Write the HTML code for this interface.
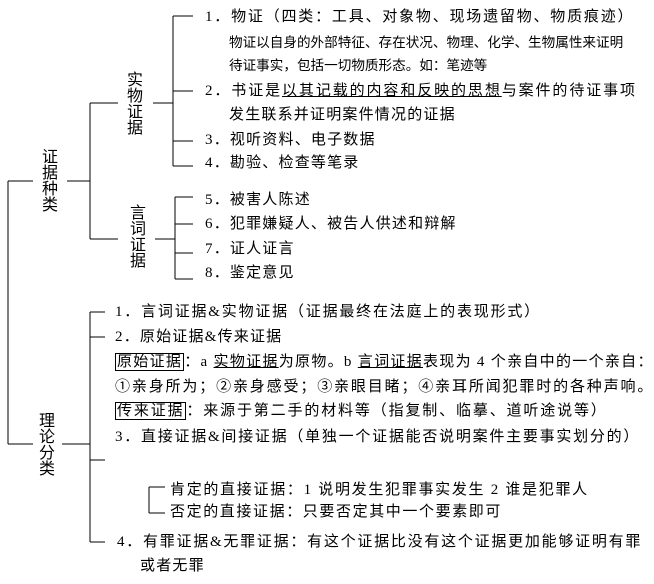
<!DOCTYPE html>
<html><head><meta charset="utf-8"><style>
html,body{margin:0;padding:0;background:#fff;}
body{width:654px;height:584px;position:relative;overflow:hidden;font-family:"Liberation Serif","Noto Sans CJK SC",sans-serif;color:#000;}
.t{position:absolute;white-space:nowrap;font-size:15px;letter-spacing:1.2px;line-height:18px;}
.s{position:absolute;white-space:nowrap;font-size:13.6px;line-height:16px;}
.v{position:absolute;font-size:16px;line-height:16px;width:18px;text-align:center;}
u{text-decoration:underline;}
.b{border:1px solid #000;padding:0 1px;}
svg{position:absolute;left:0;top:0;}
</style></head><body>
<svg width="654" height="584" stroke="#000" stroke-width="1.2" fill="none" shape-rendering="crispEdges">
<path d="M173,16V166 M173,16H193 M173,91H193 M173,141H193 M173,166H193 M153,103H173"/>
<path d="M175,197V279 M175,197H193 M175,224H193 M175,253H193 M175,279H193 M155,239H175"/>
<path d="M90,103V239 M90,103H118 M90,239H118 M67,181H90"/>
<path d="M8,181V444 M8,181H33 M8,444H33"/>
<path d="M90,312V542 M90,312H105 M90,337H105 M62,444H90 M90,460H105 M90,542H105"/>
<path d="M149,487V513 M149,487H165 M149,513H165"/>
</svg>
<div class="v" style="left:126px;top:73px">实<br>物<br>证<br>据</div>
<div class="v" style="left:129px;top:206px">言<br>词<br>证<br>据</div>
<div class="v" style="left:41px;top:150px">证<br>据<br>种<br>类</div>
<div class="v" style="left:38px;top:414px">理<br>论<br>分<br>类</div>

<div class="t" style="left:205px;top:8px;letter-spacing:1.8px">1．物证（四类：工具、对象物、现场遗留物、物质痕迹）</div>
<div class="s" style="left:229px;top:35px">物证以自身的外部特征、存在状况、物理、化学、生物属性来证明</div>
<div class="s" style="left:229px;top:58px">待证事实，包括一切物质形态。如：笔迹等</div>
<div class="t" style="left:205px;top:82px;letter-spacing:1.9px">2．书证是<u>以其记载的内容和反映的思想</u>与案件的待证事项</div>
<div class="t" style="left:229px;top:106px">发生联系并证明案件情况的证据</div>
<div class="t" style="left:205px;top:131px">3．视听资料、电子数据</div>
<div class="t" style="left:205px;top:154px">4．勘验、检查等笔录</div>
<div class="t" style="left:205px;top:191px">5．被害人陈述</div>
<div class="t" style="left:205px;top:215px">6．犯罪嫌疑人、被告人供述和辩解</div>
<div class="t" style="left:205px;top:240px">7．证人证言</div>
<div class="t" style="left:205px;top:264px">8．鉴定意见</div>

<div class="t" style="left:115px;top:303px;letter-spacing:1.8px">1．言词证据&amp;实物证据（证据最终在法庭上的表现形式）</div>
<div class="t" style="left:115px;top:328px">2．原始证据&amp;传来证据</div>
<div class="t" style="left:115px;top:353px;letter-spacing:1.3px"><span class="b">原始证据</span>：a <u>实物证据</u>为原物。b <u>言词证据</u>表现为 4 个亲自中的一个亲自：</div>
<div class="t" style="left:115px;top:378px;letter-spacing:1.85px">①亲身所为；②亲身感受；③亲眼目睹；④亲耳所闻犯罪时的各种声响。</div>
<div class="t" style="left:115px;top:402px;letter-spacing:1.85px"><span class="b">传来证据</span>：来源于第二手的材料等（指复制、临摹、道听途说等）</div>
<div class="t" style="left:115px;top:428px;letter-spacing:1.75px">3．直接证据&amp;间接证据（单独一个证据能否说明案件主要事实划分的）</div>
<div class="t" style="left:170px;top:481px;letter-spacing:1.7px">肯定的直接证据：1 说明发生犯罪事实发生 2 谁是犯罪人</div>
<div class="t" style="left:170px;top:503px;letter-spacing:1.6px">否定的直接证据：只要否定其中一个要素即可</div>
<div class="t" style="left:117px;top:533px;letter-spacing:1.75px">4．有罪证据&amp;无罪证据：有这个证据比没有这个证据更加能够证明有罪</div>
<div class="t" style="left:140px;top:557px">或者无罪</div>
</body></html>
